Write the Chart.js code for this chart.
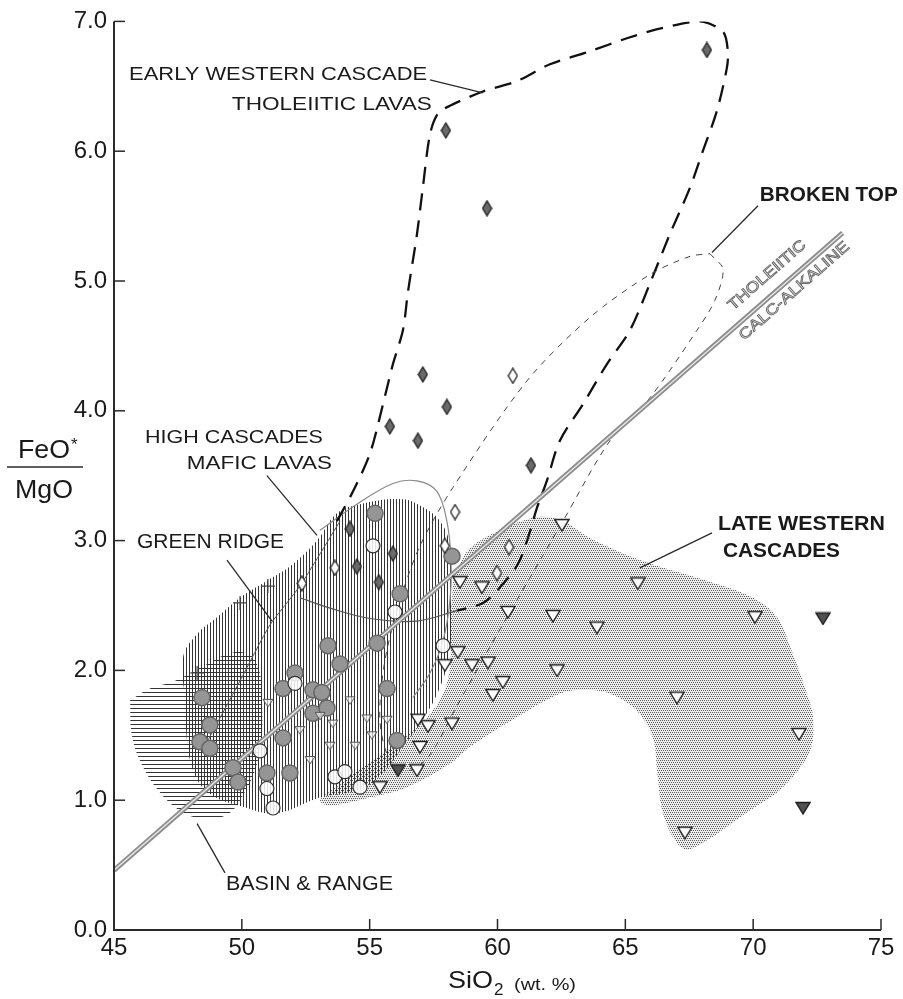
<!DOCTYPE html>
<html>
<head>
<meta charset="utf-8">
<script src="https://cdn.jsdelivr.net/npm/chart.js@4.4.1/dist/chart.umd.min.js"></script>
<style>
  body { margin: 0; background: #fff; }
  canvas { display: block; }
</style>
</head>
<body>
<canvas id="chart" width="903" height="999"></canvas>
<script>
// axis setup
const xMin = 45, xMax = 75, xStep = 5;
const yMin = 0, yMax = 7, yStep = 1;
const yTickLabels = ["0.0", "1.0", "2.0", "3.0", "4.0", "5.0", "6.0", "7.0"];

// Early Western Cascade tholeiitic lavas (filled diamonds)
const ewcX = [68.19, 57.98, 59.59, 57.08, 58.02, 55.79, 56.89, 61.31, 54.23, 54.50, 55.91, 55.36];
const ewcY = [6.78, 6.16, 5.56, 4.28, 4.03, 3.88, 3.77, 3.58, 3.09, 2.80, 2.90, 2.68];

// Broken Top (open diamonds)
const btX = [60.60, 58.34, 60.45, 59.98, 53.64, 57.94, 52.35];
const btY = [4.27, 3.22, 2.95, 2.75, 2.79, 2.96, 2.67];

// Late Western Cascades (open inverted triangles)
const lwcX = [62.52, 65.49, 70.07, 60.41, 62.17, 63.89, 59.39, 58.53, 62.33, 60.21, 59.82, 59.63,
              59.00, 58.45, 67.02, 71.79, 67.33, 58.22, 57.28, 56.89, 56.97, 56.85, 55.40, 57.94];
const lwcY = [3.12, 2.67, 2.41, 2.45, 2.42, 2.33, 2.64, 2.68, 2.00, 1.91, 1.81, 2.06,
              2.04, 2.14, 1.79, 1.51, 0.75, 1.59, 1.57, 1.62, 1.41, 1.23, 1.10, 2.04];
// small open triangles inside the hatched field
const lwcSmallX = [51.02, 52.27, 53.06, 53.56, 54.23, 54.89, 55.68, 54.43, 53.45, 52.67, 55.09];
const lwcSmallY = [1.75, 1.54, 1.65, 1.59, 1.77, 1.63, 1.62, 1.42, 1.42, 1.31, 1.50];
// filled inverted triangles
const lwcDarkX = [72.73, 71.95, 56.11];
const lwcDarkY = [2.40, 0.94, 1.23];

// High Cascades mafic lavas (filled circles)
const hcX = [48.44, 48.75, 48.36, 48.75, 49.65, 49.85, 50.98, 51.88, 52.08, 51.61, 52.78, 53.13,
             52.78, 55.68, 56.07, 53.84, 51.61, 55.21, 56.19, 58.22, 53.37, 55.29, 53.33];
const hcY = [1.79, 1.58, 1.45, 1.40, 1.25, 1.14, 1.21, 1.21, 1.98, 1.86, 1.85, 1.83,
             1.67, 1.86, 1.46, 2.05, 1.48, 3.21, 2.59, 2.88, 2.19, 2.21, 1.71];
// open circles
const ocX = [51.22, 50.98, 50.71, 52.08, 53.64, 54.03, 54.62, 57.87, 55.99, 55.13];
const ocY = [0.94, 1.09, 1.38, 1.90, 1.18, 1.22, 1.10, 2.19, 2.45, 2.96];
// crosses
const crX = [51.02, 49.93, 48.25];
const crY = [2.65, 2.52, 1.98];

// fields [SiO2, FeO*/MgO]
const ewcField = [[53.72, 3.15], [54.35, 3.38], [55.01, 3.67], [55.52, 4.05], [55.91, 4.36], [56.30, 4.62],
  [56.50, 4.92], [56.85, 5.36], [57.08, 5.72], [57.36, 6.13], [57.67, 6.29], [58.14, 6.35],
  [59.43, 6.46], [60.76, 6.54], [62.05, 6.67], [63.62, 6.77], [65.06, 6.87], [66.47, 6.95],
  [67.92, 7.00], [68.82, 6.92], [69.01, 6.77], [68.97, 6.64], [68.58, 6.31], [68.03, 6.00],
  [67.53, 5.72], [66.74, 5.36], [65.96, 4.98], [65.18, 4.62], [64.28, 4.36], [63.34, 4.05],
  [62.44, 3.77], [61.93, 3.46], [61.54, 3.25], [61.19, 3.02], [60.80, 2.82], [60.10, 2.64],
  [59.43, 2.52], [58.41, 2.46]];
const ewcBase = [[58.41, 2.46], [56.85, 2.38], [55.01, 2.40], [53.45, 2.48], [52.27, 2.56]];
const trendLine = [[53.84, 3.15], [52.27, 2.65], [51.10, 2.35], [49.93, 1.92], [48.56, 1.42]];
const btField = [[68.31, 5.21], [68.82, 5.09], [68.50, 4.85], [67.80, 4.62], [65.96, 4.10], [64.40, 3.77],
  [62.56, 3.15], [59.70, 2.18], [58.26, 1.67], [57.36, 1.35], [56.58, 1.23], [55.79, 1.31],
  [55.40, 1.62], [55.60, 2.08], [56.19, 2.54], [56.97, 2.96], [58.26, 3.41], [61.15, 4.23],
  [63.62, 4.72], [65.96, 5.05], [67.53, 5.19], [68.31, 5.21]];
const hcOutline = [[53.06, 3.08], [54.50, 3.28], [55.91, 3.44], [56.85, 3.46], [57.63, 3.38], [58.02, 3.15],
  [58.18, 2.85], [58.14, 2.54], [57.87, 2.23], [57.36, 1.98], [56.69, 1.79]];
const lwcField = [[58.26, 2.73], [58.92, 2.94], [60.10, 3.08], [61.54, 3.18], [62.56, 3.15], [63.62, 3.02],
  [65.57, 2.85], [68.19, 2.69], [69.99, 2.56], [70.93, 2.41], [71.55, 2.13], [72.10, 1.82],
  [72.34, 1.64], [72.22, 1.38], [71.16, 1.10], [69.87, 0.92], [67.53, 0.62], [67.02, 0.67],
  [66.47, 0.90], [66.24, 1.23], [66.08, 1.48], [65.45, 1.69], [64.40, 1.82], [63.34, 1.85],
  [62.44, 1.82], [60.76, 1.64], [58.92, 1.41], [58.14, 1.28], [56.46, 1.10], [55.01, 1.02],
  [53.45, 0.96], [53.06, 1.00], [54.03, 1.15], [57.75, 1.77], [58.22, 2.54], [58.26, 2.73]];
const grField = [[47.78, 1.77], [47.70, 2.10], [48.25, 2.28], [49.03, 2.41], [49.93, 2.56], [50.98, 2.69],
  [52.00, 2.82], [52.94, 3.00], [53.72, 3.21], [54.62, 3.28], [56.19, 3.32], [56.97, 3.27],
  [57.75, 3.15], [58.14, 2.96], [58.22, 2.54], [58.14, 2.15], [57.75, 1.87], [57.08, 1.62],
  [56.30, 1.41], [55.52, 1.21], [54.62, 1.08], [53.06, 1.02], [51.37, 0.90], [50.04, 0.95],
  [48.75, 1.05], [48.09, 1.23], [47.78, 1.62], [47.78, 1.77]];
const brField = [[45.63, 1.77], [46.41, 1.86], [47.39, 1.92], [48.56, 2.04], [49.73, 2.14], [50.51, 2.08],
  [50.79, 1.77], [50.63, 1.31], [49.93, 1.00], [49.34, 0.88], [48.36, 0.86], [47.58, 0.92],
  [46.80, 1.06], [46.10, 1.27], [45.70, 1.50], [45.63, 1.77]];
// tholeiitic / calc-alkaline divide
const divideLine = [[45, 0.46], [73.5, 5.37]];

// labels: text, anchor (data), fitted width px, font size, bold
const fieldLabels = [
  { t: "EARLY WESTERN CASCADE", x: 45.59, y: 6.55, w: 298, s: 19, b: false },
  { t: "THOLEIITIC LAVAS", x: 49.61, y: 6.32, w: 200, s: 19, b: false },
  { t: "BROKEN TOP", x: 70.26, y: 5.62, w: 138, s: 20, b: true },
  { t: "HIGH CASCADES", x: 46.21, y: 3.75, w: 178, s: 19, b: false },
  { t: "MAFIC LAVAS", x: 47.85, y: 3.55, w: 145, s: 19, b: false },
  { t: "GREEN RIDGE", x: 45.90, y: 2.94, w: 147, s: 20, b: false },
  { t: "LATE WESTERN", x: 68.62, y: 3.08, w: 167, s: 20, b: true },
  { t: "CASCADES", x: 68.82, y: 2.87, w: 117, s: 20, b: true },
  { t: "BASIN & RANGE", x: 49.38, y: 0.31, w: 167, s: 20, b: false }
];
const leaders = [
  [[57.36, 6.55], [59.43, 6.45]],
  [[70.19, 5.58], [68.39, 5.22]],
  [[50.98, 3.50], [52.94, 3.04]],
  [[49.42, 2.85], [51.18, 2.38]],
  [[68.39, 3.06], [65.57, 2.79]],
  [[48.25, 0.82], [49.34, 0.44]]
];
const divideLabels = [
  { t: "THOLEIITIC", x: 69.21, y: 4.77, w: 98 },
  { t: "CALC-ALKALINE", x: 69.64, y: 4.54, w: 141 }
];

const FONT = "'Liberation Sans', Arial, Helvetica, sans-serif";
const canvas = document.getElementById("chart");
const ctx = canvas.getContext("2d");

function makePattern(w, h, draw) {
  const c = document.createElement("canvas");
  c.width = w; c.height = h;
  draw(c.getContext("2d"));
  return ctx.createPattern(c, "repeat");
}
// stipple for the Late Western Cascades field
const stipple = makePattern(4, 4, g => {
  g.fillStyle = "#ececec"; g.fillRect(0, 0, 4, 4);
  g.fillStyle = "#5c5c5c";
  g.fillRect(0, 0, 1, 1); g.fillRect(2, 0, 1, 1); g.fillRect(1, 2, 1, 1); g.fillRect(3, 2, 1, 1);
});
const vHatch = makePattern(3, 1, g => { g.fillStyle = "#333"; g.fillRect(0, 0, 1, 1); });
const hHatch = makePattern(1, 4, g => { g.fillStyle = "#333"; g.fillRect(0, 0, 1, 1); });

function marker(w, h, path, fill, stroke, lw) {
  const c = document.createElement("canvas");
  c.width = w; c.height = h;
  const g = c.getContext("2d");
  g.beginPath(); path(g, w, h); g.closePath();
  g.fillStyle = fill; g.fill();
  g.strokeStyle = stroke; g.lineWidth = lw; g.stroke();
  return c;
}
const diamondPath = (g, w, h) => { g.moveTo(w / 2, 1); g.lineTo(w - 1, h / 2); g.lineTo(w / 2, h - 1); g.lineTo(1, h / 2); };
const triPath = (g, w, h) => { g.moveTo(1, 1.5); g.lineTo(w - 1, 1.5); g.lineTo(w / 2, h - 1); };
const dFilled = marker(11, 17, diamondPath, "#6a6a6a", "#1e1e1e", 1.3);
const dOpen = marker(11, 17, diamondPath, "#fff", "#1e1e1e", 1.3);
const tOpen = marker(16, 14, triPath, "#fff", "#1e1e1e", 1.4);
const tSmall = marker(12, 10, triPath, "rgba(255,255,255,0.6)", "#555", 1);
const tDark = marker(16, 14, triPath, "#505050", "#1e1e1e", 1.4);

const pts = (xs, ys) => xs.map((x, i) => ({ x: x, y: ys[i] }));
const path = list => list.map(p => ({ x: p[0], y: p[1] }));

function shape(list, opts) {
  return Object.assign({
    type: "line", data: path(list), pointRadius: 0, tension: 0.35,
    borderColor: "rgba(0,0,0,0)", borderWidth: 1, fill: false
  }, opts);
}
function markers(xs, ys, opts) {
  return Object.assign({ type: "scatter", data: pts(xs, ys), order: 0 }, opts);
}

const datasets = [
  shape(lwcField, { fill: "shape", backgroundColor: stipple, order: 12 }),
  shape(brField, { fill: "shape", backgroundColor: hHatch, order: 11, tension: 0.4 }),
  shape(grField, { fill: "shape", backgroundColor: vHatch, order: 10, tension: 0.4 }),
  shape(hcOutline, { borderColor: "#888", borderWidth: 1.2, order: 6 }),
  shape(trendLine, { borderColor: "#555", borderWidth: 1, order: 6, tension: 0.2 }),
  shape(ewcBase, { borderColor: "#555", borderWidth: 1.2, order: 6 }),
  shape(btField, { borderColor: "#444", borderWidth: 1, borderDash: [6, 6], order: 5, tension: 0.3 }),
  shape(ewcField, { borderColor: "#111", borderWidth: 2.3, borderDash: [17, 10], order: 5, tension: 0.3 }),
  shape(divideLine, { borderColor: "#8c8c8c", borderWidth: 5, tension: 0, order: 4 }),
  shape(divideLine, { borderColor: "#e6e6e6", borderWidth: 1.4, tension: 0, order: 3 }),
  markers(hcX, hcY, { pointStyle: "circle", pointRadius: 8, backgroundColor: "#959595", borderColor: "#666", borderWidth: 1.5, order: 2 }),
  markers(ocX, ocY, { pointStyle: "circle", pointRadius: 7, backgroundColor: "rgba(255,255,255,0.85)", borderColor: "#333", borderWidth: 1.2, order: 1 }),
  markers(crX, crY, { pointStyle: "cross", pointRadius: 7, borderColor: "#444", borderWidth: 1.2 }),
  markers(lwcSmallX, lwcSmallY, { pointStyle: tSmall, pointRadius: 6 }),
  markers(lwcX, lwcY, { pointStyle: tOpen, pointRadius: 8 }),
  markers(lwcDarkX, lwcDarkY, { pointStyle: tDark, pointRadius: 8 }),
  markers(btX, btY, { pointStyle: dOpen, pointRadius: 8 }),
  markers(ewcX, ewcY, { pointStyle: dFilled, pointRadius: 8 })
];

function fitText(g, txt, x, y, font, w) {
  g.font = font;
  const m = g.measureText(txt).width;
  g.save();
  g.translate(x, y);
  g.scale(w / m, 1);
  g.fillText(txt, 0, 0);
  g.restore();
}

const decorations = {
  id: "decorations",
  afterDraw(chart) {
    const g = chart.ctx, xs = chart.scales.x, ys = chart.scales.y;
    const a = chart.chartArea;
    g.save();
    g.strokeStyle = "#2a2a2a";
    g.fillStyle = "#1a1a1a";
    // axes with inward ticks
    g.lineWidth = 2;
    g.beginPath();
    g.moveTo(a.left, a.top); g.lineTo(a.left, a.bottom); g.lineTo(a.right, a.bottom);
    g.stroke();
    g.lineWidth = 1.5;
    for (let v = yMin + yStep; v <= yMax; v += yStep) {
      const py = ys.getPixelForValue(v);
      g.beginPath(); g.moveTo(a.left, py); g.lineTo(a.left + 11, py); g.stroke();
    }
    for (let v = xMin + xStep; v <= xMax; v += xStep) {
      const px = xs.getPixelForValue(v);
      g.beginPath(); g.moveTo(px, a.bottom); g.lineTo(px, a.bottom - 11); g.stroke();
    }
    // axis titles
    g.textBaseline = "alphabetic";
    fitText(g, "FeO", 18, 458, "25px " + FONT, 52);
    g.font = "17px " + FONT; g.fillText("*", 71, 450);
    g.lineWidth = 1.6;
    g.beginPath(); g.moveTo(7, 467); g.lineTo(83, 467); g.stroke();
    fitText(g, "MgO", 15, 498, "25px " + FONT, 58);
    fitText(g, "SiO", 448, 988, "24px " + FONT, 45);
    g.font = "17px " + FONT; g.fillText("2", 494, 995);
    fitText(g, "(wt. %)", 514, 990, "17px " + FONT, 62);
    // field labels and leaders
    fieldLabels.forEach(l => {
      fitText(g, l.t, xs.getPixelForValue(l.x), ys.getPixelForValue(l.y),
        (l.b ? "bold " : "") + l.s + "px " + FONT, l.w);
    });
    g.lineWidth = 1.3;
    leaders.forEach(seg => {
      g.beginPath();
      g.moveTo(xs.getPixelForValue(seg[0][0]), ys.getPixelForValue(seg[0][1]));
      g.lineTo(xs.getPixelForValue(seg[1][0]), ys.getPixelForValue(seg[1][1]));
      g.stroke();
    });
    // rotated labels along the divide
    const x0 = xs.getPixelForValue(divideLine[0][0]), y0 = ys.getPixelForValue(divideLine[0][1]);
    const x1 = xs.getPixelForValue(divideLine[1][0]), y1 = ys.getPixelForValue(divideLine[1][1]);
    const ang = Math.atan2(y1 - y0, x1 - x0);
    divideLabels.forEach(l => {
      g.save();
      g.translate(xs.getPixelForValue(l.x), ys.getPixelForValue(l.y));
      g.rotate(ang);
      g.font = "15px " + FONT;
      const m = g.measureText(l.t).width;
      g.scale(l.w / m, 1);
      g.fillStyle = "#fff";
      g.fillText(l.t, 0, 0);
      g.strokeStyle = "#6a6a6a";
      g.lineWidth = 0.9;
      g.strokeText(l.t, 0, 0);
      g.restore();
    });
    g.restore();
  }
};

new Chart(canvas, {
  type: "scatter",
  data: { datasets: datasets },
  options: {
    responsive: false,
    animation: false,
    devicePixelRatio: 1,
    layout: { padding: { top: 20, right: 22, left: 0, bottom: 0 } },
    plugins: { legend: { display: false }, tooltip: { enabled: false } },
    scales: {
      x: {
        type: "linear", min: xMin, max: xMax,
        ticks: { stepSize: xStep, padding: 4, color: "#1a1a1a", font: { family: FONT, size: 24 } },
        grid: { display: false, drawTicks: false },
        border: { display: false },
        afterFit(s) { s.height = 69; }
      },
      y: {
        type: "linear", min: yMin, max: yMax,
        ticks: {
          stepSize: yStep, padding: 7, color: "#1a1a1a", font: { family: FONT, size: 24 },
          callback: (v, i) => yTickLabels[i]
        },
        grid: { display: false, drawTicks: false },
        border: { display: false },
        afterFit(s) { s.width = 114; }
      }
    }
  },
  plugins: [decorations]
});
</script>
</body>
</html>
